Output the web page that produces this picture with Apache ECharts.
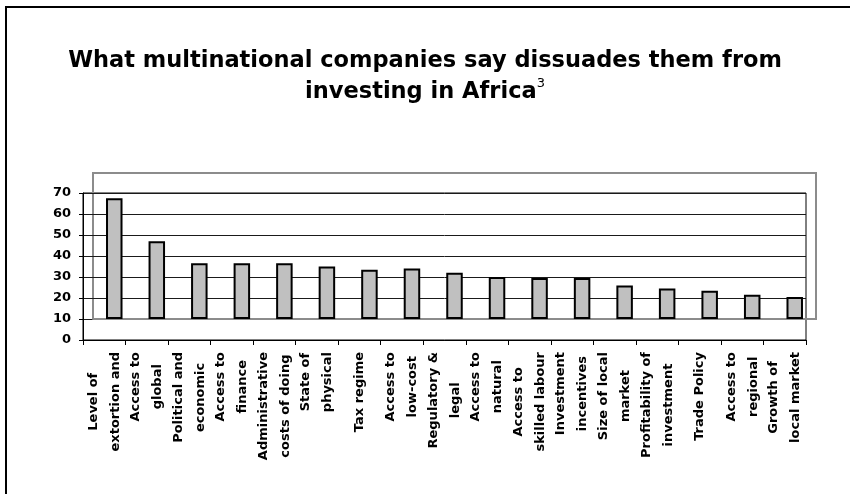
<!DOCTYPE html>
<html><head><meta charset="utf-8">
<script src="https://cdn.jsdelivr.net/npm/echarts@6/dist/echarts.min.js"></script>
<style>html,body{margin:0;padding:0;background:#fff}#c{width:850px;height:494px}</style>
</head><body><div id="c"></div>
<script>
const titleLine1 = 'What multinational companies say dissuades them from';
const titleLine2 = 'investing in Africa';
const titleNote = '3';
const categories = [
  'Level of\nextortion and',
  'Access to\nglobal',
  'Political and\neconomic',
  'Access to\nfinance',
  'Administrative\ncosts of doing',
  'State of\nphysical',
  'Tax regime',
  'Access to\nlow-cost',
  'Regulatory &\nlegal',
  'Access to\nnatural',
  'Access to\nskilled labour',
  'Investment\nincentives',
  'Size of local\nmarket',
  'Profitability of\ninvestment',
  'Trade Policy',
  'Access to\nregional',
  'Growth of\nlocal market'
];
const values = [67.5, 47, 36.5, 36.5, 36.5, 35, 33.5, 34, 32, 30, 29.5, 29.5, 26, 24.5, 23.5, 21.5, 20.5];
const yMin = 0, yMax = 70, yStep = 10;
const floorValue = 10; // 3D floor that the bars stand on

const FONT = 'DejaVu Sans';
const chart = echarts.init(document.getElementById('c'), null, {renderer: 'canvas'});
const frontTop = 193, frontHeight = 147;
const pxPerUnit = frontHeight / (yMax - yMin);
const backTop = 173;
const backHeight = frontHeight - (floorValue - yMin) * pxPerUnit + (frontTop - backTop);
const backMax = floorValue + backHeight / pxPerUnit;

chart.setOption({
  animation: false,
  backgroundColor: '#fff',
  title: {
    text: '{b|' + titleLine1 + '}\n{b|' + titleLine2 + '}{s|' + titleNote + '}',
    left: 'center', top: 46, padding: [0, 0, 0, 7],
    textStyle: {
      fontFamily: FONT, fontWeight: 'bold', fontSize: 22.5, lineHeight: 31, color: '#000',
      rich: {
        b: {fontFamily: FONT, fontWeight: 'bold', fontSize: 22.5, lineHeight: 31, color: '#000'},
        s: {fontFamily: FONT, fontWeight: 'normal', fontSize: 13, lineHeight: 24, color: '#000', verticalAlign: 'top'}
      }
    }
  },
  graphic: [{
    type: 'rect', silent: true, z: 100,
    shape: {x: 6, y: 7, width: 1000, height: 1000},
    style: {fill: 'none', stroke: '#000', lineWidth: 2}
  }],
  grid: [
    {left: 83, right: 44, top: frontTop, height: frontHeight, show: true, borderColor: '#000', borderWidth: 1, backgroundColor: 'transparent'},
    {left: 93, right: 34, top: backTop, height: backHeight, show: true, borderColor: '#8c8c8c', borderWidth: 2, backgroundColor: 'transparent'}
  ],
  xAxis: [
    {
      type: 'category', gridIndex: 0, data: categories,
      axisLine: {lineStyle: {color: '#000', width: 1}},
      axisTick: {show: true, length: 5, lineStyle: {color: '#000', width: 1}},
      axisLabel: {
        interval: 0, rotate: 90, margin: 12,
        fontFamily: FONT, fontWeight: 'bold', fontSize: 13, lineHeight: 22, color: '#000',
        formatter: v => v.split('\n').map(s => '{c|' + s + '}').join('\n'),
        rich: {c: {align: 'center', fontFamily: FONT, fontWeight: 'bold', fontSize: 13, lineHeight: 22, color: '#000'}}
      },
      splitLine: {show: false}
    },
    {
      type: 'category', gridIndex: 1, data: categories, z: 1,
      axisLine: {lineStyle: {color: '#8c8c8c', width: 2}},
      axisTick: {show: false}, axisLabel: {show: false}, splitLine: {show: false}
    }
  ],
  yAxis: [
    {
      type: 'value', gridIndex: 0, min: yMin, max: yMax, interval: yStep,
      axisLine: {show: true, lineStyle: {color: '#000', width: 1}},
      axisTick: {show: true, length: 4, lineStyle: {color: '#000', width: 1}},
      axisLabel: {margin: 12, fontFamily: FONT, fontWeight: 'bold', fontSize: 13, color: '#000'},
      splitLine: {show: true, lineStyle: {color: '#1a1a1a', width: 1}}
    },
    {
      type: 'value', gridIndex: 1, min: floorValue, max: backMax, startValue: floorValue, show: false,
      splitLine: {show: false}
    }
  ],
  series: [{
    type: 'bar', xAxisIndex: 1, yAxisIndex: 1, data: values, barWidth: 16.5, clip: true,
    itemStyle: {color: '#c0c0c0', borderColor: '#000', borderWidth: 2}
  }]
});
</script></body></html>
